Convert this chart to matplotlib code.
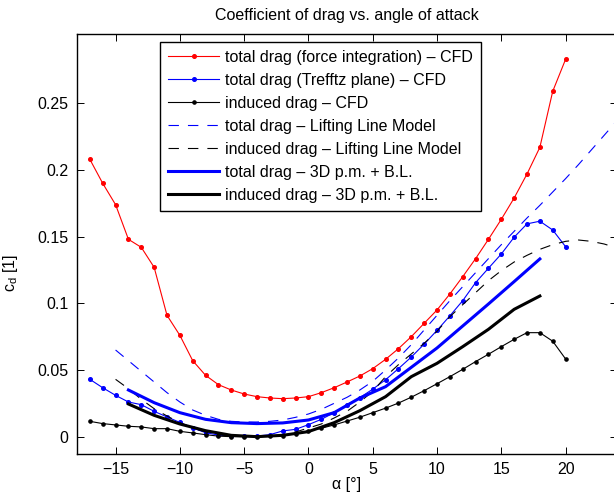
import matplotlib
matplotlib.use("Agg")
import matplotlib.pyplot as plt

plt.rcParams['font.family'] = ['Liberation Sans', 'DejaVu Sans']
plt.rcParams['mathtext.default'] = 'regular'
plt.rcParams['lines.scale_dashes'] = False

# angle of attack of the CFD runs [deg]
alpha_cfd = [-17, -16, -15, -14, -13, -12, -11, -10, -9, -8, -7, -6, -5, -4, -3, -2, -1,
             0, 1, 2, 3, 4, 5, 6, 7, 8, 9, 10, 11, 12, 13, 14, 15, 16, 17, 18, 19, 20]
cd_total_force = [0.208, 0.190, 0.174, 0.148, 0.142, 0.127, 0.091, 0.076, 0.057, 0.046,
                  0.039, 0.035, 0.032, 0.030, 0.029, 0.0285, 0.029, 0.030, 0.033, 0.0367,
                  0.041, 0.0455, 0.051, 0.058, 0.066, 0.075, 0.085, 0.095, 0.107, 0.120,
                  0.1335, 0.148, 0.163, 0.179, 0.197, 0.217, 0.259, 0.283]
cd_total_trefftz = [0.043, 0.0367, 0.031, 0.026, 0.024, 0.019, 0.0148, 0.0107, 0.0065, 0.003,
                    0.0012, 0.0004, 0.0003, 0.0005, 0.0015, 0.0043, 0.0055, 0.009, 0.013, 0.018,
                    0.024, 0.0293, 0.0356, 0.0427, 0.051, 0.0597, 0.0694, 0.0797, 0.0906, 0.102,
                    0.1155, 0.1263, 0.137, 0.1496, 0.1596, 0.1616, 0.155, 0.1425]
cd_induced_cfd = [0.0115, 0.0098, 0.0088, 0.0078, 0.0073, 0.006, 0.006, 0.004, 0.0028, 0.0015,
                  0.0004, 0.0, 0.0, 0.0, 0.0003, 0.0008, 0.0023, 0.0043, 0.0063, 0.0088,
                  0.0117, 0.0146, 0.018, 0.0214, 0.0252, 0.0296, 0.0345, 0.0397, 0.045, 0.0505,
                  0.0563, 0.0618, 0.0675, 0.073, 0.078, 0.078, 0.0716, 0.0583]

# lifting line model
alpha_llm = [-15, -14, -13, -12, -11, -10, -9, -8, -7, -6, -5, -4, -3, -2, -1, 0, 1, 2, 3, 4,
             5, 6, 7, 8, 9, 10, 11, 12, 13, 14, 15, 16, 17, 18, 19, 20, 21, 22, 23, 24]
cd_total_llm = [0.065, 0.057, 0.049, 0.041, 0.033, 0.026, 0.020, 0.016, 0.013, 0.0115,
                0.011, 0.011, 0.0115, 0.0125, 0.0145, 0.017, 0.0205, 0.025, 0.0295, 0.035,
                0.0415, 0.050, 0.059, 0.069, 0.080, 0.091, 0.102, 0.1125, 0.123, 0.1335,
                0.144, 0.154, 0.164, 0.1735, 0.1835, 0.1935, 0.204, 0.215, 0.226, 0.237]
cd_induced_llm = [0.043, 0.036, 0.028, 0.021, 0.0155, 0.0105, 0.0065, 0.0035, 0.0015, 0.0004,
                  0.0, 0.0, 0.0004, 0.0015, 0.0035, 0.0065, 0.0095, 0.014, 0.019, 0.026,
                  0.034, 0.045, 0.054, 0.062, 0.070, 0.079, 0.090, 0.099, 0.108, 0.117,
                  0.1245, 0.131, 0.136, 0.1405, 0.144, 0.1465, 0.1475, 0.1465, 0.1445, 0.1415]

# 3D panel method + boundary layer
alpha_pm = [-14, -12, -10, -8, -6, -4, -2, 0, 2, 4, 6, 8, 10, 12, 14, 16, 18]
cd_total_pm = [0.035, 0.0255, 0.018, 0.013, 0.0105, 0.0098, 0.0103, 0.0125, 0.018, 0.029,
               0.0375, 0.052, 0.0665, 0.083, 0.0995, 0.1163, 0.1333]
cd_induced_pm = [0.0245, 0.016, 0.0095, 0.0045, 0.001, 0.0, 0.001, 0.0038, 0.0105, 0.0195,
                 0.030, 0.045, 0.055, 0.0675, 0.0805, 0.0955, 0.1055]

labels = ["total drag (force integration) \u2013 CFD",
          "total drag (Trefftz plane) \u2013 CFD",
          "induced drag \u2013 CFD",
          "total drag \u2013 Lifting Line Model",
          "induced drag \u2013 Lifting Line Model",
          "total drag \u2013 3D p.m. + B.L.",
          "induced drag \u2013 3D p.m. + B.L."]

xticks = [-15, -10, -5, 0, 5, 10, 15, 20]
yticks = [0, 0.05, 0.1, 0.15, 0.2, 0.25]
yticklabels = ["0", "0.05", "0.1", "0.15", "0.2", "0.25"]

fs = 11.5
fig = plt.figure(figsize=(6.14, 4.95), dpi=100)
ax = fig.add_axes([77 / 614, 41 / 495, 540 / 614, 420 / 495])

ax.plot(alpha_cfd, cd_total_force, color='red', lw=0.8, marker='o', ms=2.6, label=labels[0])
ax.plot(alpha_cfd, cd_total_trefftz, color='blue', lw=0.8, marker='o', ms=2.6, label=labels[1])
ax.plot(alpha_cfd, cd_induced_cfd, color='black', lw=0.8, marker='o', ms=2.3, label=labels[2])
ax.plot(alpha_llm, cd_total_llm, color='blue', lw=0.8, dashes=(7.5, 6.5), label=labels[3])
ax.plot(alpha_llm, cd_induced_llm, color='black', lw=0.8, dashes=(7.5, 6.5), label=labels[4])
ax.plot(alpha_pm, cd_total_pm, color='blue', lw=2.2, label=labels[5])
ax.plot(alpha_pm, cd_induced_pm, color='black', lw=2.2, label=labels[6])

ax.set_xlim(-18, 24)
ax.set_ylim(-0.013, 0.302)
ax.set_xticks(xticks)
ax.set_yticks(yticks)
ax.set_yticklabels(yticklabels)
ax.tick_params(direction='in', top=True, right=True, length=5, width=0.7,
               labelsize=fs, pad=6)
for s in ax.spines.values():
    s.set_linewidth(1.0)

ax.set_title("Coefficient of drag vs. angle of attack", fontsize=fs, pad=10)
ax.set_xlabel("\u03b1 [\u00b0]", fontsize=fs, labelpad=0)
ax.set_ylabel("c$_{d}$ [1]", fontsize=fs)
ax.yaxis.set_label_coords(-0.105, 0.43)

leg = ax.legend(loc='upper left', bbox_to_anchor=(83 / 540, 412 / 420), fontsize=fs,
                frameon=True, fancybox=False, framealpha=1, edgecolor='black',
                handlelength=3.2, handletextpad=0.35, labelspacing=0.5,
                borderpad=0.5, borderaxespad=0, numpoints=1)
leg.get_frame().set_linewidth(1.0)

fig.savefig("out.png", dpi=100)
